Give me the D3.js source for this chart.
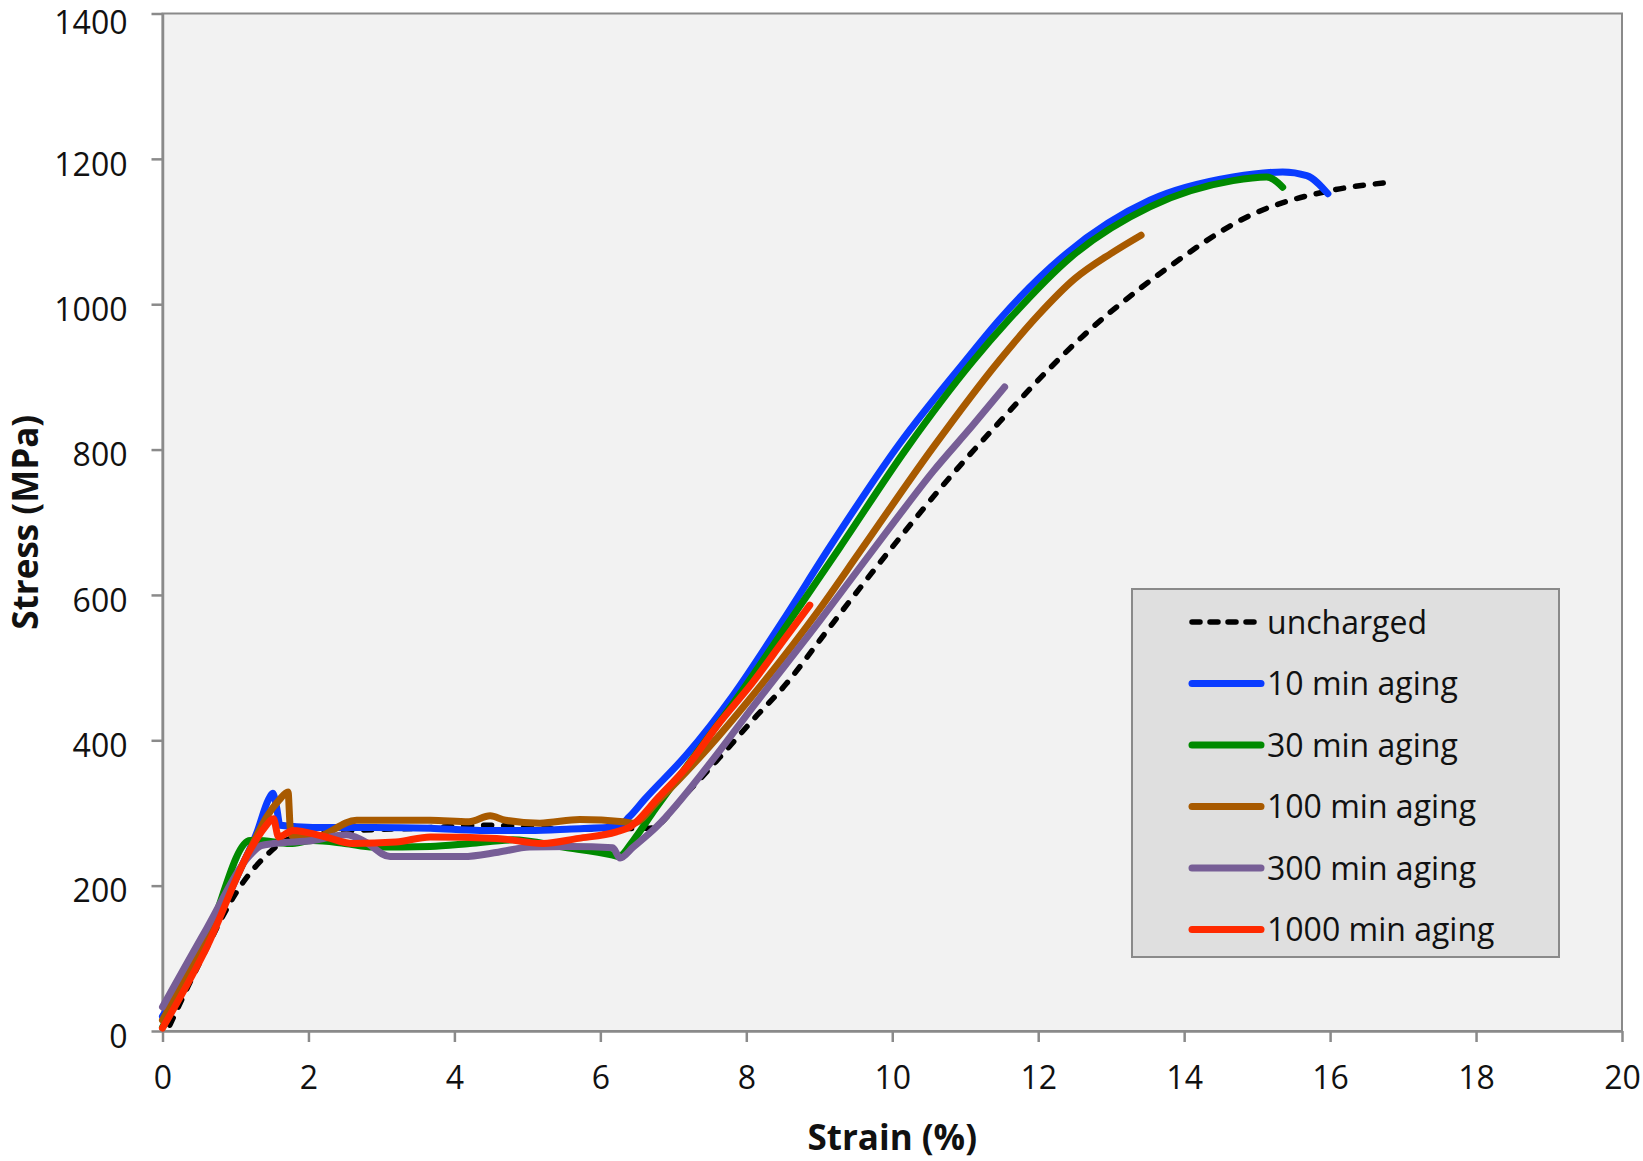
<!DOCTYPE html>
<html>
<head>
<meta charset="utf-8">
<script src="https://cdn.jsdelivr.net/npm/d3@7"></script>
<style>
  body { margin: 0; background: #fff; }
  text { font-family: "Open Sans", sans-serif; fill: #111; }
</style>
</head>
<body>
<script>
// [strain %, stress MPa]
const uncharged = [
  [0.1, 8], [0.45, 82], [1.1, 204], [1.47, 246], [1.7, 263], [2.5, 275],
  [3.5, 279], [4.49, 283], [5.5, 278], [6.68, 279], [7.18, 327], [7.64, 377],
  [8.09, 428], [8.55, 478], [9.01, 538], [9.46, 597], [9.97, 662], [10.79, 762],
  [11.47, 838], [12.16, 912], [12.6, 955], [13.4, 1022], [13.76, 1049],
  [14.9, 1122], [16.04, 1157], [16.86, 1168]
];
const aging10 = [
  [0, 20], [0.61, 125], [1.06, 221], [1.3, 275], [1.45, 318], [1.51, 327],
  [1.56, 310], [1.61, 283], [2.06, 280], [2.89, 280], [3.67, 279], [4.35, 276],
  [5.03, 276], [5.6, 278], [6.23, 281], [6.4, 295], [6.6, 318], [7.18, 380],
  [7.82, 462], [8.51, 566], [9.15, 667], [10.1, 808], [11.0, 922], [11.47, 979],
  [12.39, 1070], [13.53, 1143], [14.67, 1175], [15.35, 1182], [15.68, 1177], [15.97, 1152]
];
const aging30 = [
  [0, 5], [0.6, 125], [1.2, 262], [1.3, 262], [1.75, 258], [2.06, 262],
  [2.5, 258], [2.89, 253], [3.67, 254], [4.21, 258], [4.8, 263], [5.49, 253],
  [6.17, 242], [6.25, 240], [6.45, 262], [6.7, 298], [7.3, 380], [7.9, 462],
  [8.6, 565], [9.28, 665], [10.2, 802], [11.1, 921], [11.6, 979], [12.45, 1065],
  [13.53, 1134], [14.67, 1170], [15.13, 1175], [15.35, 1161]
];
const aging100 = [
  [0, 15], [0.6, 125], [1.2, 250], [1.43, 295], [1.6, 318], [1.72, 329],
  [1.75, 280], [1.78, 268], [2.06, 266], [2.66, 290], [3.67, 290], [4.2, 288],
  [4.49, 296], [4.7, 290], [5.17, 286], [5.72, 291], [6.31, 288], [6.45, 286],
  [6.8, 318], [7.5, 392], [8.09, 462], [9.0, 580], [9.56, 660], [10.56, 803],
  [11.47, 923], [12.0, 985], [12.5, 1035], [13.0, 1070], [13.41, 1095]
];
const aging300 = [
  [0, 33], [0.6, 140], [1.2, 242], [1.35, 255], [1.52, 258], [2.06, 262],
  [2.52, 270], [2.75, 262], [3.12, 240], [3.67, 240], [4.12, 240], [4.6, 246],
  [5.03, 253], [5.6, 254], [6.17, 252], [6.27, 238], [6.45, 253], [6.77, 281],
  [7.5, 368], [8.09, 446], [9.01, 565], [9.46, 625], [10.0, 697], [10.56, 770],
  [11.1, 833], [11.54, 886]
];
const aging1000 = [
  [0, 4], [0.61, 116], [1.2, 249], [1.4, 280], [1.52, 292], [1.59, 267],
  [1.79, 276], [2.2, 268], [2.61, 258], [3.2, 260], [3.67, 267], [4.58, 265],
  [5.21, 258], [5.7, 265], [6.22, 274], [6.41, 281], [6.8, 322], [7.18, 363],
  [7.6, 420], [8.09, 480], [8.5, 536], [8.87, 586]
];

const seriesNames = ["uncharged", "10 min aging", "30 min aging", "100 min aging", "300 min aging", "1000 min aging"];
const seriesColors = ["#000000", "#0a3cff", "#008a00", "#a85a00", "#775e96", "#ff2a00"];
const seriesData = [uncharged, aging10, aging30, aging100, aging300, aging1000];

const xTicks = d3.range(0, 21, 2);
const yTicks = d3.range(0, 1401, 200);

const W = 1643, H = 1161;
const plot = { left: 162.5, right: 1622, top: 13.5, bottom: 1031 };

const svg = d3.select("body").append("svg")
  .attr("width", W).attr("height", H);

const x = d3.scaleLinear().domain([0, 20]).range([plot.left, plot.right]);
const y = d3.scaleLinear().domain([0, 1400]).range([plot.bottom, plot.top]);

svg.append("rect")
  .attr("x", plot.left).attr("y", plot.top)
  .attr("width", plot.right - plot.left).attr("height", plot.bottom - plot.top)
  .attr("fill", "#f2f2f2").attr("stroke", "#8a8a8a").attr("stroke-width", 2);

// axes
const xAxis = d3.axisBottom(x).tickValues(xTicks).tickFormat(d3.format("d"))
  .tickSize(11).tickPadding(24).tickSizeOuter(0);
const yAxis = d3.axisLeft(y).tickValues(yTicks).tickFormat(d3.format("d"))
  .tickSize(11).tickPadding(24).tickSizeOuter(0);

const gx = svg.append("g").attr("transform", "translate(0," + plot.bottom + ")").call(xAxis);
const gy = svg.append("g").attr("transform", "translate(" + plot.left + ",0)").call(yAxis);

[gx, gy].forEach((g) => {
  g.select(".domain").attr("stroke", "#8a8a8a").attr("stroke-width", 2.5);
  g.selectAll(".tick line").attr("stroke", "#8a8a8a").attr("stroke-width", 2.5);
  g.selectAll(".tick text")
    .style("font-family", "'Open Sans', sans-serif")
    .style("font-size", "32px").attr("fill", "#111");
});
// label sits a little below its tick; top one nudged to stay inside the page
gy.selectAll(".tick text").attr("dy", (d) => (d === 1400 ? "0.64em" : "0.51em"));

// curves
const line = d3.line()
  .x((d) => x(d[0]))
  .y((d) => y(d[1]))
  .curve(d3.curveMonotoneX);

svg.append("g").selectAll("path")
  .data(seriesData)
  .join("path")
  .attr("d", line)
  .attr("fill", "none")
  .attr("stroke", (d, i) => seriesColors[i])
  .attr("stroke-width", (d, i) => (i === 0 ? 5.5 : 7))
  .attr("stroke-linecap", "round")
  .attr("stroke-linejoin", "round")
  .attr("stroke-dasharray", (d, i) => (i === 0 ? "8,12" : null));

// axis titles
svg.append("text")
  .attr("x", (plot.left + plot.right) / 2).attr("y", 1150)
  .attr("text-anchor", "middle")
  .style("font-size", "35px").style("font-weight", "bold")
  .text("Strain (%)");

svg.append("text")
  .attr("transform", "translate(38," + (plot.top + plot.bottom) / 2 + ") rotate(-90)")
  .attr("text-anchor", "middle")
  .style("font-size", "35px").style("font-weight", "bold")
  .text("Stress (MPa)");

// legend
const legend = svg.append("g");
legend.append("rect")
  .attr("x", 1132).attr("y", 589).attr("width", 427).attr("height", 368)
  .attr("fill", "#dfdfdf").attr("stroke", "#8a8a8a").attr("stroke-width", 2);

const rows = legend.selectAll("g.row")
  .data(seriesNames)
  .join("g")
  .attr("class", "row")
  .attr("transform", (d, i) => "translate(0," + (622 + i * 61.5) + ")");

rows.append("line")
  .attr("x1", 1192).attr("x2", 1261)
  .attr("stroke", (d, i) => seriesColors[i])
  .attr("stroke-width", (d, i) => (i === 0 ? 5.5 : 7))
  .attr("stroke-linecap", "round")
  .attr("stroke-dasharray", (d, i) => (i === 0 ? "8,10" : null));

rows.append("text")
  .attr("x", 1267).attr("y", 0).attr("dy", "0.36em")
  .style("font-size", "32px")
  .text((d) => d);
</script>
</body>
</html>
